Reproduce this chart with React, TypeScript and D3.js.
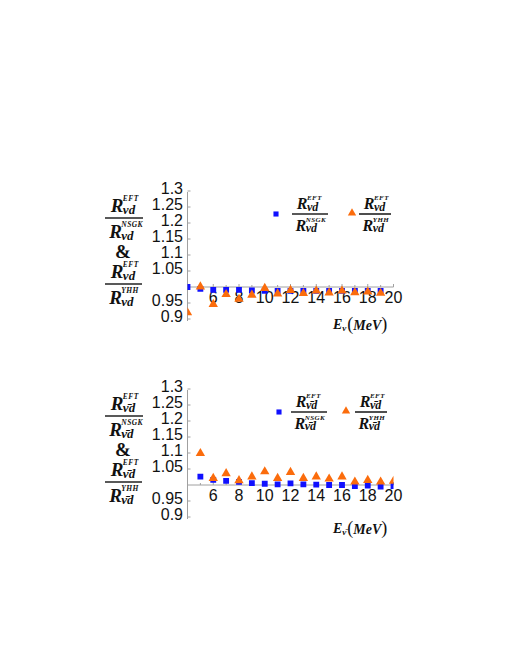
import React from "react";
import * as d3 from "d3";

// neutrino-deuteron: E = 4..19 MeV
const nuEnergy = [4, 5, 6, 7, 8, 9, 10, 11, 12, 13, 14, 15, 16, 17, 18, 19];
const nuRatioNSGK = [1.0, 0.994, 0.991, 0.991, 0.991, 0.989, 0.988, 0.988, 0.988, 0.988, 0.988, 0.988, 0.988, 0.988, 0.988, 0.988];
const nuRatioYHH = [0.92, 1.001, 0.946, 0.977, 0.962, 0.975, 0.996, 0.979, 0.99, 0.98, 0.988, 0.982, 0.988, 0.983, 0.985, 0.981];

// antineutrino-deuteron: E = 5..20 MeV
const antiEnergy = [5, 6, 7, 8, 9, 10, 11, 12, 13, 14, 15, 16, 17, 18, 19, 20];
const antiRatioNSGK = [1.026, 1.016, 1.013, 1.01, 1.006, 1.004, 1.002, 1.005, 1.002, 1.001, 1.0, 1.0, 0.997, 0.998, 0.995, 0.997];
const antiRatioYHH = [1.099, 1.021, 1.036, 1.014, 1.026, 1.042, 1.021, 1.04, 1.021, 1.026, 1.019, 1.026, 1.01, 1.015, 1.01, 1.012];

const yTickValues = [0.9, 0.95, 1.05, 1.1, 1.15, 1.2, 1.25, 1.3];
const xTickValues = [6, 8, 10, 12, 14, 16, 18, 20];

const BLUE = "#1010ff";
const ORANGE = "#fb6c0c";
const AXIS = "#a0a0a0";
const SERIF = "'Liberation Serif', 'DejaVu Serif', serif";
const SANS = "'Liberation Sans', Arial, sans-serif";

const x = d3.scaleLinear().domain([4, 20]).range([187.5, 393.5]);

const square = d3.symbol().type(d3.symbolSquare);
const triangle = d3.symbol().type(d3.symbolTriangle);

// one R with stacked super/subscript
function RSym({ x0, y0, size, sup, sub, supSize, subSize }) {
  const rw = size * 0.64;
  return (
    <g fontFamily={SERIF} fontStyle="italic" fontWeight="bold" fill="#111">
      <text x={x0} y={y0} fontSize={size}>R</text>
      <text x={x0 + rw} y={y0 - size * 0.56} fontSize={supSize} letterSpacing={0.4}>{sup}</text>
      <text x={x0 + rw} y={y0 + size * 0.12} fontSize={subSize}>{sub}</text>
    </g>
  );
}

function Frac({ x0, x1, yb, size, supSize, subSize, sub, numSup, denSup, gap }) {
  return (
    <g>
      <RSym x0={x0 + size * 0.3} y0={yb - gap} size={size} sup={numSup} sub={sub} supSize={supSize} subSize={subSize} />
      <line x1={x0} x2={x1} y1={yb} y2={yb} stroke="#222" strokeWidth={1.6} />
      <RSym x0={x0 + size * 0.22} y0={yb + gap * 2.5 + size * 0.25} size={size} sup={denSup} sub={sub} supSize={supSize} subSize={subSize} />
    </g>
  );
}

function Panel({ top, energy, nsgk, yhh, sub, sym, leg }) {
  const y = d3.scaleLinear().domain([0.9, 1.3]).range([top + 128, top]);
  const clipId = "clip" + top;
  const base = y(1);
  return (
    <g>
      <defs>
        <clipPath id={clipId}>
          <rect x={x(4)} y={y(1.3) - 6} width={x(20) - x(4)} height={y(0.9) - y(1.3) + 12} />
        </clipPath>
      </defs>
      {/* left axis label */}
      <Frac x0={105} x1={143} yb={base - 69} size={19} supSize={7.5} subSize={13} sub={sub} numSup="EFT" denSup="NSGK" gap={6} />
      <text x={123} y={base - 29} fontFamily={SERIF} fontWeight="bold" fontSize={19} textAnchor="middle" fill="#111">&amp;</text>
      <Frac x0={105} x1={142} yb={base - 3} size={19} supSize={7.5} subSize={13} sub={sub} numSup="EFT" denSup="YHH" gap={6} />

      {/* axes */}
      <line x1={x(4)} x2={x(4)} y1={y(1.3) + 1} y2={y(0.9) + 2} stroke={AXIS} strokeWidth={1} />
      <line x1={x(4)} x2={x(20)} y1={base} y2={base} stroke={AXIS} strokeWidth={1} />
      {yTickValues.map((v) => (
        <g key={"y" + v}>
          <line x1={x(4)} x2={x(4) + 3} y1={y(v)} y2={y(v)} stroke={AXIS} />
          <text x={183} y={y(v) - 3} dy="0.35em" textAnchor="end" fontFamily={SANS} fontSize={16} fill="#111">{v}</text>
        </g>
      ))}
      {d3.range(5, 21).map((v) => (
        <line key={"xt" + v} x1={x(v)} x2={x(v)} y1={base} y2={base - (v % 2 === 0 ? 3 : 2)} stroke={AXIS} />
      ))}
      {xTickValues.map((v) => (
        <text key={"x" + v} x={x(v)} y={base + 16} textAnchor="middle" fontFamily={SANS} fontSize={16} fill="#111">{v}</text>
      ))}

      {/* markers */}
      <g clipPath={`url(#${clipId})`}>
        {energy.map((e, i) => (
          <path key={"b" + e} d={square.size(34)()} transform={`translate(${x(e)},${y(nsgk[i])})`} fill={BLUE} />
        ))}
        {energy.map((e, i) => (
          <path key={"o" + e} d={triangle.size(38)()} transform={`translate(${x(e)},${y(yhh[i])})`} fill={ORANGE} />
        ))}
      </g>

      {/* legend */}
      <path d={square.size(26)()} transform={`translate(${leg.sq},${base - 73})`} fill={BLUE} />
      <Frac x0={leg.f1} x1={leg.f1 + 36} yb={base - 73} size={16} supSize={7} subSize={12} sub={sub} numSup="EFT" denSup="NSGK" gap={5} />
      <path d={triangle.size(30)()} transform={`translate(${leg.tri},${base - 74})`} fill={ORANGE} />
      <Frac x0={leg.f2} x1={leg.f2 + 32} yb={base - 73} size={16} supSize={7} subSize={12} sub={sub} numSup="EFT" denSup="YHH" gap={5} />

      {/* x axis title */}
      <text x={333} y={base + 42 + sym} fontFamily={SERIF} fontStyle="italic" fontWeight="bold" fontSize={14} fill="#111">
        E
        <tspan fontSize={9} dy={2}>{sub.slice(0, sub.length - 1)}</tspan>
        <tspan fontSize={18} fontWeight="normal" fontStyle="normal" dy={-1} dx={1}>(</tspan>
        <tspan fontSize={14} dy={0}>MeV</tspan>
        <tspan fontSize={18} fontWeight="normal" fontStyle="normal">)</tspan>
      </text>
    </g>
  );
}

export default function App() {
  return (
    <svg width={519} height={672} style={{ display: "block", position: "absolute", left: 0, top: 0 }}>
      <rect width={519} height={672} fill="#fff" />
      <Panel top={191} energy={nuEnergy} nsgk={nuRatioNSGK} yhh={nuRatioYHH} sub="νd" sym={0}
        leg={{ sq: 276, f1: 292, tri: 352, f2: 359 }} />
      <Panel top={389} energy={antiEnergy} nsgk={antiRatioNSGK} yhh={antiRatioYHH} sub={"ν\u0304d"} sym={6}
        leg={{ sq: 279, f1: 291, tri: 346, f2: 355 }} />
    </svg>
  );
}
